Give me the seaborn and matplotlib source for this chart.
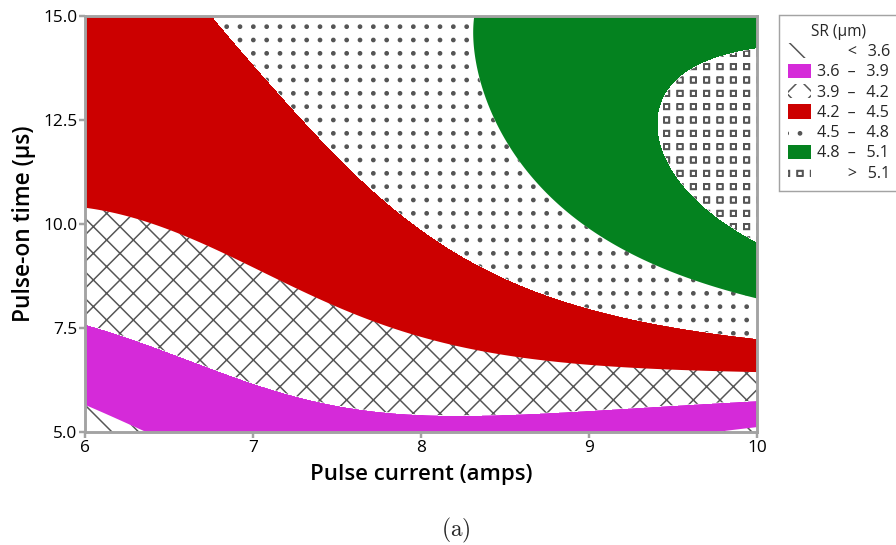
import numpy as np
import matplotlib
matplotlib.use('Agg')
import matplotlib.pyplot as plt
import matplotlib.hatch as mhatch
from matplotlib.path import Path
from matplotlib.patches import Patch
import seaborn as sns

# ─── SR contour boundaries (pulse current, pulse-on time) ──
SR_LEVELS = [3.6, 3.9, 4.2, 4.5, 4.8, 5.1]

current_36 = [6.00, 6.17, 6.40, 9.72, 10.00]
time_36 = [5.65, 5.36, 5.00, 5.00, 5.15]

current_39 = [6.00, 6.37, 6.76, 7.16, 7.56, 8.00, 8.59, 9.18, 10.00]
time_39 = [7.52, 7.04, 6.49, 6.01, 5.60, 5.40, 5.38, 5.58, 5.77]

current_42 = [6.00, 6.37, 6.76, 7.16, 7.56, 8.00, 8.59, 9.18, 10.00]
time_42 = [10.55, 9.98, 9.37, 8.65, 8.00, 7.39, 6.80, 6.61, 6.47]

current_45 = [6.85, 6.98, 7.14, 7.28, 7.44, 7.95, 8.11, 8.59, 9.18, 10.00]
time_45 = [15.00, 13.87, 12.98, 12.31, 11.78, 10.05, 9.69, 8.49, 7.76, 7.21]

current_48 = [8.30, 8.31, 8.41, 8.61, 8.90, 9.30, 9.70, 10.00]
time_48 = [15.00, 14.18, 12.74, 11.54, 10.34, 9.30, 8.65, 8.17]

current_51 = [10.00, 9.70, 9.50, 9.43, 9.42, 9.46, 9.54, 9.70, 10.00]
time_51 = [14.13, 13.77, 13.29, 12.50, 12.14, 11.54, 10.89, 10.26, 9.45]

# SR estimated inside the bands (corners and edges of the region)
anchor_current = [6.0, 6.0, 6.0, 7.0, 8.0, 9.0, 10.0, 8.0, 9.0, 10.0, 10.0, 9.0]
anchor_time = [15.0, 12.5, 5.0, 5.0, 5.0, 5.0, 5.0, 15.0, 15.0, 15.0, 12.0, 12.5]
anchor_sr = [4.41, 4.31, 3.48, 3.74, 3.83, 3.75, 3.54, 4.73, 4.90, 4.97, 5.27, 5.02]

BAND_LABELS = ['\u2007\u2008\u2007\u2002<\u2002\u20093.6',
               '3.6\u2002\u2013\u2002\u20093.9',
               '3.9\u2002\u2013\u2002\u20094.2',
               '4.2\u2002\u2013\u2002\u20094.5',
               '4.5\u2002\u2013\u2002\u20094.8',
               '4.8\u2002\u2013\u2002\u20095.1',
               '\u2007\u2008\u2007\u2002>\u2002\u20095.1']
BAND_COLORS = ['white', '#d52ad9', 'white', '#cc0000', 'white', '#04821f', 'white']
BAND_HATCHES = ['\\', None, 'x', None, '.', None, '*']

X_TICKS = [6, 7, 8, 9, 10]
Y_TICKS = [5.0, 7.5, 10.0, 12.5, 15.0]


# Minitab-like hatches: dots and open squares on a straight (not staggered) grid
class GridShapes(mhatch.Shapes):
    char = '.'

    def __init__(self, hatch, density):
        self.num_rows = hatch.count(self.char) * density
        self.num_shapes = (self.num_rows + 1) ** 2 if self.num_rows else 0
        self.num_vertices = (self.num_shapes * len(self.shape_vertices) *
                             (1 if self.filled else 2))

    def set_vertices_and_codes(self, vertices, codes):
        offset = 1.0 / self.num_rows
        shape_vertices = self.shape_vertices * offset * self.size
        shape_codes = self.shape_codes
        if not self.filled:
            shape_vertices = np.concatenate([shape_vertices, shape_vertices[::-1] * 0.9])
            shape_codes = np.concatenate([shape_codes, shape_codes])
        pos = np.linspace(0, 1, self.num_rows + 1)
        parts = [shape_vertices + [cx, cy] for cy in pos for cx in pos]
        np.concatenate(parts, out=vertices)
        np.concatenate([shape_codes] * len(parts), out=codes)


class DotHatch(GridShapes):
    char = '.'
    size = 0.12
    filled = True
    shape_vertices = Path.unit_circle().vertices
    shape_codes = Path.unit_circle().codes


class SquareHatch(GridShapes):
    char = '*'
    size = 0.42
    filled = False
    shape_vertices = np.array([[-0.5, -0.5], [0.5, -0.5], [0.5, 0.5], [-0.5, 0.5], [-0.5, -0.5]])
    shape_codes = np.array([Path.MOVETO, Path.LINETO, Path.LINETO, Path.LINETO, Path.CLOSEPOLY],
                           dtype=Path.code_type)


_swap = {mhatch.Stars: SquareHatch, mhatch.SmallFilledCircles: DotHatch}
mhatch._hatch_types = [_swap.get(t, t) for t in mhatch._hatch_types]


def design(x, y, deg=4):
    u = (np.asarray(x, float) - 8.0) / 2.0
    v = (np.asarray(y, float) - 10.0) / 5.0
    return np.stack([u**i * v**j for i in range(deg + 1) for j in range(deg + 1 - i)], axis=-1)


# response surface fitted through the read-off points
bounds_x = [current_36, current_39, current_42, current_45, current_48, current_51]
bounds_y = [time_36, time_39, time_42, time_45, time_48, time_51]
pts_x = np.concatenate(bounds_x + [anchor_current])
pts_y = np.concatenate(bounds_y + [anchor_time])
pts_z = np.concatenate([[lv] * len(c) for lv, c in zip(SR_LEVELS, bounds_x)] + [anchor_sr])
coef, *_ = np.linalg.lstsq(design(pts_x, pts_y), pts_z, rcond=None)

gx, gy = np.meshgrid(np.linspace(6, 10, 400), np.linspace(5, 15, 400))
sr = design(gx, gy) @ coef

sns.set_theme(style='white')
plt.rcParams['font.family'] = ['Open Sans', 'DejaVu Sans']
plt.rcParams['hatch.color'] = '#555555'
plt.rcParams['hatch.linewidth'] = 1.35
plt.rcParams['mathtext.fontset'] = 'cm'

fig = plt.figure(figsize=(11.2, 6.8125), dpi=80)
ax = fig.add_axes([85 / 896, 1 - 432 / 545, 672 / 896, 416 / 545])

cs = ax.contourf(gx, gy, sr, levels=[-100] + SR_LEVELS + [100],
                 colors=BAND_COLORS, hatches=BAND_HATCHES)
# hatch colour follows the edge colour; keep the edge itself invisible
cs.set_edgecolor('#555555')
cs.set_linewidth(0)

ax.set_xlim(6, 10)
ax.set_ylim(5, 15)
ax.set_xticks(X_TICKS)
ax.set_xticklabels([str(t) for t in X_TICKS])
ax.set_yticks(Y_TICKS)
ax.set_yticklabels([f'{t:.1f}' for t in Y_TICKS])
ax.tick_params(axis='both', direction='out', length=5, width=2.2, color='#a3a3a3',
               labelsize=15.5, labelcolor='black', pad=2, bottom=True, left=True)
for sp in ax.spines.values():
    sp.set_color('#a3a3a3')
    sp.set_linewidth(2.6)
    sp.set_visible(True)

ax.set_xlabel('Pulse current (amps)', fontsize=20, fontweight='semibold', labelpad=7, color='black')
ax.set_ylabel('Pulse-on time (\u00b5s)', fontsize=20.5, fontweight='semibold', labelpad=6, color='black')

handles = [Patch(facecolor=c, edgecolor='#555555', linewidth=0, hatch=h)
           for c, h in zip(BAND_COLORS, BAND_HATCHES)]
leg = fig.legend(handles, BAND_LABELS, title='SR (\u00b5m)', loc='upper left',
                 bbox_to_anchor=(779 / 896, 1 - 15 / 545), fontsize=14.5, title_fontsize=14,
                 frameon=True, fancybox=False, framealpha=1, edgecolor='#a3a3a3',
                 handlelength=1.45, handleheight=1.0, handletextpad=0.35,
                 labelspacing=0.22, borderpad=0.55, borderaxespad=0)
leg.get_frame().set_linewidth(1.3)

fig.text(456 / 896, 1 - 530 / 545, r'$\mathrm{(a)}$', ha='center', va='center', fontsize=21)

plt.savefig('out.png', dpi=80)
